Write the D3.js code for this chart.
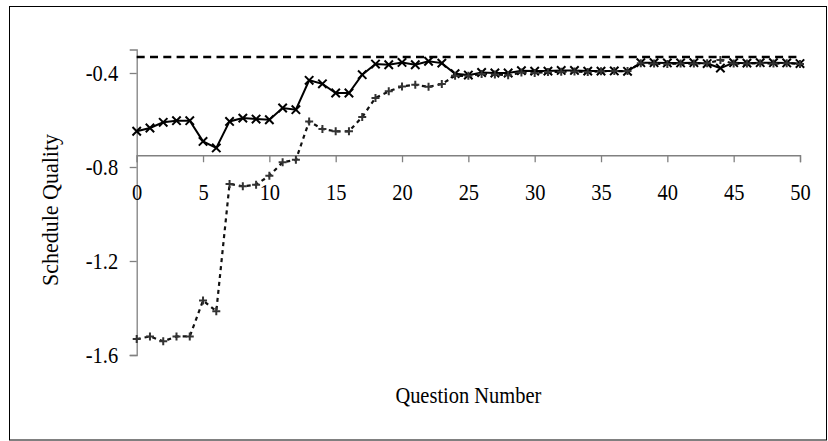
<!DOCTYPE html>
<html>
<head>
<meta charset="utf-8">
<script src="https://cdn.jsdelivr.net/npm/d3@7"></script>
<style>
  body { margin: 0; background: #fff; }
  text { font-family: 'Liberation Serif', 'Times New Roman', serif; fill: #000; }
</style>
</head>
<body>
<div id="chart"></div>
<script>
const questions = [0, 1, 2, 3, 4, 5, 6, 7, 8, 9, 10, 11, 12, 13, 14, 15, 16, 17, 18, 19, 20,
  21, 22, 23, 24, 25, 26, 27, 28, 29, 30, 31, 32, 33, 34, 35, 36, 37, 38, 39, 40,
  41, 42, 43, 44, 45, 46, 47, 48, 49, 50];

// x markers, solid line
const crossSeries = [-0.648, -0.634, -0.610, -0.603, -0.603, -0.691, -0.719, -0.606, -0.592, -0.596,
  -0.599, -0.549, -0.556, -0.431, -0.446, -0.485, -0.485, -0.407, -0.362, -0.365,
  -0.355, -0.365, -0.350, -0.358, -0.403, -0.409, -0.398, -0.400, -0.400, -0.390,
  -0.392, -0.392, -0.389, -0.389, -0.392, -0.392, -0.391, -0.393, -0.356, -0.356,
  -0.357, -0.357, -0.356, -0.360, -0.379, -0.356, -0.358, -0.356, -0.356, -0.357, -0.360];

// + markers, dotted line
const plusSeries = [-1.532, -1.521, -1.542, -1.521, -1.521, -1.368, -1.414, -0.872, -0.882, -0.875,
  -0.837, -0.780, -0.769, -0.606, -0.638, -0.648, -0.648, -0.587, -0.506, -0.478,
  -0.457, -0.450, -0.459, -0.447, -0.412, -0.412, -0.404, -0.406, -0.410, -0.398,
  -0.400, -0.396, -0.395, -0.394, -0.396, -0.393, -0.392, -0.392, -0.358, -0.360,
  -0.362, -0.360, -0.360, -0.358, -0.345, -0.360, -0.360, -0.358, -0.360, -0.358, -0.362];

// dashed reference level
const optimalLevel = -0.332;

const xTicks = [0, 5, 10, 15, 20, 25, 30, 35, 40, 45, 50];
const yTicks = [-1.6, -1.2, -0.8, -0.4];
const xAxisCrossing = -0.75;

const width = 828, height = 441;
const svg = d3.select('#chart').append('svg').attr('width', width).attr('height', height);

svg.append('rect').attr('x', 9.5).attr('y', 6.5).attr('width', 817).attr('height', 433.5)
  .attr('fill', 'none').attr('stroke', '#000').attr('stroke-width', 1);

const x = d3.scaleLinear().domain([0, 50]).range([136.7, 800]);
const y = d3.scaleLinear().domain([-1.6, -0.3]).range([355, 49.5]);

// text in the original looks a bit condensed / tall
const squeeze = 'scale(0.93,1.08)';

// axes
const yAxis = svg.append('g').attr('transform', `translate(${x(0)},0)`)
  .call(d3.axisLeft(y).tickValues(yTicks).tickSize(7).tickPadding(13).tickFormat(d3.format('.1f')));
const xAxis = svg.append('g').attr('transform', `translate(0,${y(xAxisCrossing)})`)
  .call(d3.axisBottom(x).tickValues(xTicks).tickSize(7).tickPadding(19).tickFormat(d3.format('d')));

[xAxis, yAxis].forEach(g => {
  g.select('.domain').attr('stroke', '#808080').attr('stroke-width', 1.3);
  g.selectAll('.tick line').attr('stroke', '#808080').attr('stroke-width', 1.3);
  g.selectAll('.tick text').attr('font-size', 22).attr('fill', '#000').attr('transform', squeeze)
    .style('font-family', "'Liberation Serif', 'Times New Roman', serif");
});
yAxis.selectAll('.tick text').text(d => d3.format('.1f')(d).replace('−', '-'));

// dashed level line
svg.append('line')
  .attr('x1', x(questions[0])).attr('x2', x(questions[questions.length - 1]))
  .attr('y1', y(optimalLevel)).attr('y2', y(optimalLevel))
  .attr('stroke', '#000').attr('stroke-width', 2.6).attr('stroke-dasharray', '8,5.3');

// dotted + series
const plusData = questions.map((q, i) => [q, plusSeries[i]]);
svg.append('path').datum(plusData)
  .attr('d', d3.line().x(d => x(d[0])).y(d => y(d[1])))
  .attr('fill', 'none').attr('stroke', '#111').attr('stroke-width', 2.2).attr('stroke-dasharray', '4,4');

// solid x series
const crossData = questions.map((q, i) => [q, crossSeries[i]]);
svg.append('path').datum(crossData)
  .attr('d', d3.line().x(d => x(d[0])).y(d => y(d[1])))
  .attr('fill', 'none').attr('stroke', '#000').attr('stroke-width', 2);

const cs = 4.2;
svg.selectAll('.cross').data(crossData).enter().append('path').attr('class', 'cross')
  .attr('d', d => {
    const cx = x(d[0]), cy = y(d[1]);
    return `M${cx - cs},${cy - cs}L${cx + cs},${cy + cs}M${cx - cs},${cy + cs}L${cx + cs},${cy - cs}`;
  })
  .attr('stroke', '#000').attr('stroke-width', 2).attr('fill', 'none');

const ps = 4;
svg.selectAll('.plus').data(plusData).enter().append('path').attr('class', 'plus')
  .attr('d', d => {
    const cx = x(d[0]), cy = y(d[1]);
    return `M${cx - ps},${cy}L${cx + ps},${cy}M${cx},${cy - ps}L${cx},${cy + ps}`;
  })
  .attr('stroke', '#333').attr('stroke-width', 2).attr('fill', 'none');

// axis titles
svg.append('text').attr('transform', 'translate(58,210) rotate(-90) scale(1,1.08)')
  .attr('text-anchor', 'middle').attr('font-size', 22).text('Schedule Quality');
svg.append('text').attr('transform', `translate(${(x(0) + x(50)) / 2},403) ${squeeze}`)
  .attr('text-anchor', 'middle').attr('font-size', 22).text('Question Number');
</script>
</body>
</html>
